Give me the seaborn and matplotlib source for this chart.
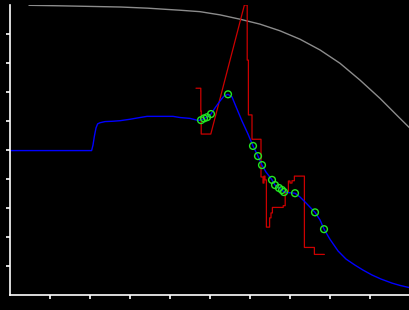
import matplotlib
matplotlib.use("Agg")
import matplotlib.pyplot as plt
import seaborn as sns
import pandas as pd

# Gray reference curve
gray_x = [0.475, 1.325, 2.775, 3.45, 3.9, 4.25, 4.55, 4.75, 5.25, 5.75, 6.25, 6.75, 7.25, 7.75, 8.25, 8.75, 9.25, 9.75, 10.0]
gray_y = [9.99, 9.97, 9.93, 9.89, 9.85, 9.82, 9.79, 9.77, 9.66, 9.51, 9.34, 9.11, 8.82, 8.45, 7.99, 7.41, 6.78, 6.09, 5.75]

# Blue smooth curve
blue_x = [0.0, 2.04, 2.075, 2.11, 2.15, 2.19, 2.25, 2.375, 2.55, 2.75, 3.0, 3.25, 3.425, 4.075, 4.25, 4.5, 4.7,
          4.775, 4.85, 4.925, 5.025, 5.125, 5.25, 5.35, 5.45, 5.55, 5.675, 5.8, 5.95, 6.075, 6.2, 6.3, 6.4,
          6.55, 6.625, 6.725, 6.8, 6.85, 6.95, 7.125, 7.25, 7.375, 7.5, 7.625, 7.75, 7.85, 8.0, 8.2, 8.4,
          8.625, 8.825, 9.05, 9.275, 9.55, 9.75, 10.0]
blue_y = [4.98, 4.98, 5.17, 5.48, 5.76, 5.90, 5.94, 5.98, 5.99, 6.01, 6.06, 6.12, 6.16, 6.16, 6.12, 6.09, 6.02,
          6.03, 6.09, 6.13, 6.24, 6.45, 6.69, 6.86, 6.92, 6.83, 6.41, 6.00, 5.55, 5.14, 4.79, 4.48, 4.24,
          3.97, 3.79, 3.69, 3.62, 3.55, 3.53, 3.51, 3.38, 3.21, 3.03, 2.85, 2.59, 2.27, 1.92, 1.52, 1.24,
          1.03, 0.86, 0.69, 0.55, 0.41, 0.33, 0.25]

# Observed points (green rings)
pt_x = [4.775, 4.85, 4.925, 5.025, 5.45, 6.075, 6.2, 6.3, 6.55, 6.625, 6.725, 6.8, 6.85, 7.125, 7.625, 7.85]
pt_y = [6.03, 6.09, 6.13, 6.24, 6.92, 5.14, 4.79, 4.48, 3.97, 3.79, 3.69, 3.62, 3.55, 3.51, 2.85, 2.27]

# Red step-like line
red_x = [4.65, 4.77, 4.77, 4.78, 4.78, 5.02, 5.86, 5.93, 5.93, 5.96, 5.96, 6.05, 6.05, 6.275, 6.275, 6.325,
         6.325, 6.35, 6.35, 6.375, 6.375, 6.41, 6.41, 6.49, 6.49, 6.525, 6.525, 6.56, 6.56, 6.83, 6.83, 6.88,
         6.88, 6.96, 6.96, 7.0, 7.0, 7.05, 7.05, 7.11, 7.11, 7.36, 7.36, 7.61, 7.61, 7.86]
red_y = [7.13, 7.13, 6.34, 6.34, 5.55, 5.55, 10.0, 10.0, 8.10, 8.10, 6.21, 6.21, 5.37, 5.37, 4.07, 4.07,
         3.86, 3.86, 4.10, 4.10, 3.97, 3.97, 2.34, 2.34, 2.66, 2.66, 2.83, 2.83, 3.02, 3.02, 3.08, 3.08,
         3.55, 3.55, 3.93, 3.93, 3.86, 3.86, 3.94, 3.94, 4.10, 4.10, 1.64, 1.64, 1.40, 1.40]

ticks = [1, 2, 3, 4, 5, 6, 7, 8, 9]

sns.set_style("ticks")
plt.rcParams["font.family"] = ["DejaVu Sans"]

fig = plt.figure(figsize=(4.1, 3.1), dpi=100, facecolor="black")
ax = fig.add_axes([10 / 410, 15 / 310, 400 / 410, 290 / 310])
ax.set_facecolor("black")

sns.lineplot(data=pd.DataFrame({"x": gray_x, "y": gray_y}), x="x", y="y", sort=False, estimator=None,
             color="#8c8c8c", linewidth=1.0, ax=ax)
sns.lineplot(data=pd.DataFrame({"x": red_x, "y": red_y}), x="x", y="y", sort=False, estimator=None,
             color="#cc0000", linewidth=0.9, ax=ax)
sns.lineplot(data=pd.DataFrame({"x": blue_x, "y": blue_y}), x="x", y="y", sort=False, estimator=None,
             color="#0000ff", linewidth=1.0, ax=ax)
sns.scatterplot(data=pd.DataFrame({"x": pt_x, "y": pt_y}), x="x", y="y", facecolors="none",
                edgecolor="#22e622", s=24, linewidth=1.0, ax=ax, zorder=5)

ax.set_xlim(0, 10)
ax.set_ylim(0, 10)
ax.set_xticks(ticks)
ax.set_yticks(ticks)
ax.set_xticklabels([])
ax.set_yticklabels([])
ax.set_xlabel("")
ax.set_ylabel("")
for side in ["top", "right"]:
    ax.spines[side].set_visible(False)
for side in ["left", "bottom"]:
    ax.spines[side].set_color("white")
    ax.spines[side].set_linewidth(1.2)
ax.tick_params(axis="both", colors="white", length=3, width=1.2, direction="out")

fig.savefig("out.png", dpi=100, facecolor="black")
